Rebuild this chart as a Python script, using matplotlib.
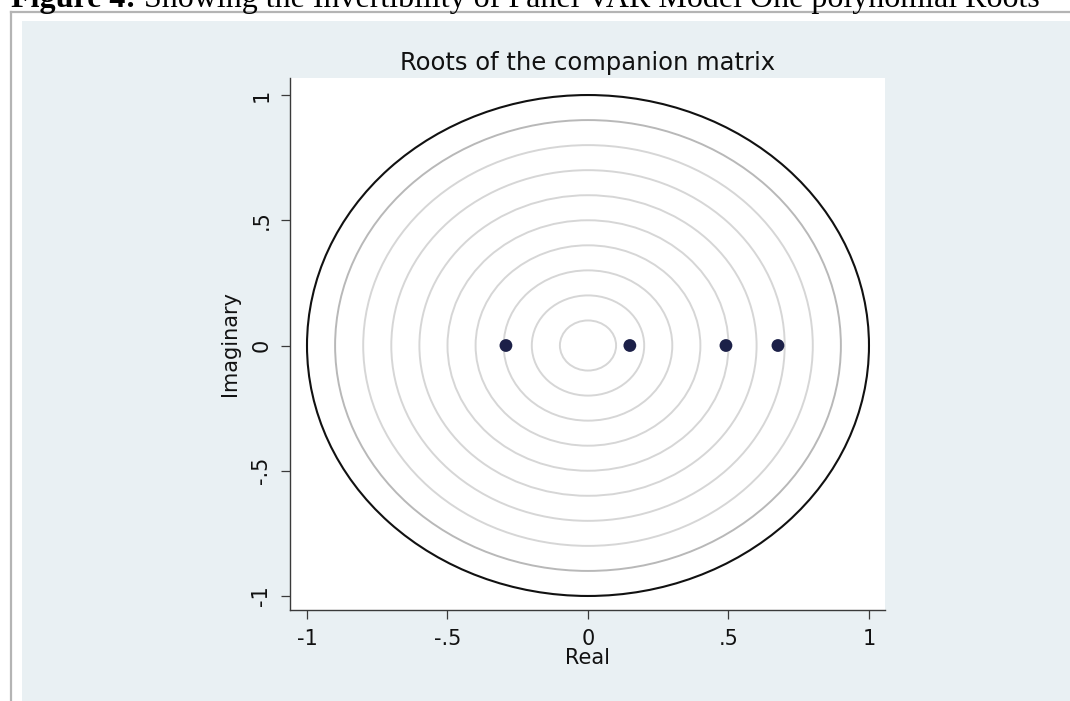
import matplotlib
matplotlib.use("Agg")
import matplotlib.pyplot as plt
from matplotlib.patches import Circle, Rectangle
from matplotlib.lines import Line2D

# eigenvalues of the companion matrix
roots_real = [-0.292, 0.149, 0.491, 0.676]
roots_imag = [0.0, 0.0, 0.0, 0.0]

grid_radii = [0.1, 0.2, 0.3, 0.4, 0.5, 0.6, 0.7, 0.8, 0.9]
tick_vals = [-1, -0.5, 0, 0.5, 1]
tick_labels = ["-1", "-.5", "0", ".5", "1"]

caption_bold = "Figure 4:"
caption_rest = " Showing the Invertibility of Panel VAR Model One polynomial Roots"

W, H = 1070, 701
fig = plt.figure(figsize=(W / 100, H / 100), dpi=100)
fig.patch.set_facecolor("white")

# graph region background (behind the axes)
fig.patches.append(Rectangle((22 / W, 0), 1 - 22 / W, 1 - 21 / H, transform=fig.transFigure,
                             facecolor="#e9f0f3", edgecolor="none", zorder=-2))
# page frame lines
fig.lines.append(Line2D([11 / W, 1], [1 - 12 / H, 1 - 12 / H], transform=fig.transFigure,
                        color="#b4b4b4", lw=1.6, zorder=-1))
fig.lines.append(Line2D([11 / W, 11 / W], [0, 1 - 12 / H], transform=fig.transFigure,
                        color="#b4b4b4", lw=1.6, zorder=-1))

# caption, cut off at the top like the source
t1 = fig.text(11 / W, 1 - 7 / H, caption_bold, family="Liberation Serif", fontsize=23,
              fontweight="bold", va="baseline", ha="left")
fig.canvas.draw()
bb = t1.get_window_extent()
fig.text(bb.x1 / W, 1 - 7 / H, caption_rest, family="Liberation Serif", fontsize=23,
         va="baseline", ha="left")

ax = fig.add_axes([290 / W, 1 - 610 / H, 595 / W, 532 / H])
ax.set_facecolor("white")

for r in grid_radii:
    col = "#b8b8b8" if r == 0.9 else "#d6d6d6"
    ax.add_patch(Circle((0, 0), r, fill=False, edgecolor=col, lw=1.4, zorder=1))
ax.add_patch(Circle((0, 0), 1.0, fill=False, edgecolor="#111111", lw=1.5, zorder=2))

ax.scatter(roots_real, roots_imag, s=85, color="#1c2048", zorder=3, edgecolors="none")

ax.set_xlim(-1.0605, 1.057)
ax.set_ylim(-1.056, 1.068)

for s in ["top", "right"]:
    ax.spines[s].set_visible(False)
for s in ["left", "bottom"]:
    ax.spines[s].set_color("#3a3a3a")
    ax.spines[s].set_linewidth(1.0)

ax.set_xticks(tick_vals)
ax.set_xticklabels(tick_labels)
ax.set_yticks(tick_vals)
ax.set_yticklabels(tick_labels, rotation=90, va="center")
ax.tick_params(axis="both", direction="out", length=6.5, width=0.9, color="#3a3a3a",
               labelsize=15, labelcolor="#111111")
ax.tick_params(axis="x", pad=7)
ax.tick_params(axis="y", pad=7)

ax.set_title("Roots of the companion matrix", fontsize=17.5, color="#111111", pad=6)
ax.set_xlabel("Real", fontsize=15, color="#111111")
ax.set_ylabel("Imaginary", fontsize=15, color="#111111")
ax.xaxis.set_label_coords(0.50, -0.071)
ax.yaxis.set_label_coords(-0.084, 0.5)

fig.savefig("out.png", dpi=100)
